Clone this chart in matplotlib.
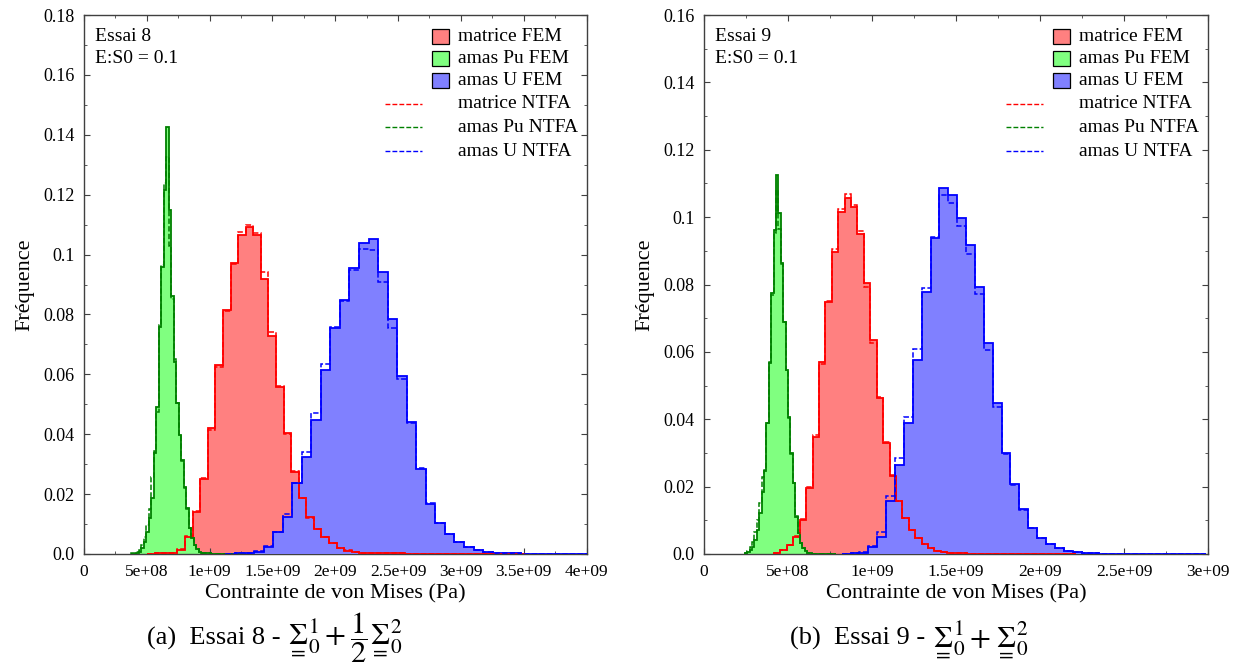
import numpy as np
import matplotlib
matplotlib.use('Agg')
import matplotlib.pyplot as plt
from matplotlib.patches import Rectangle
from matplotlib.lines import Line2D
from matplotlib.ticker import MultipleLocator, FixedLocator, FixedFormatter

plt.rcParams['font.family'] = ['Liberation Serif', 'DejaVu Serif']
plt.rcParams['mathtext.fontset'] = 'stix'

# ---------------- Essai 8 data (left panel) ----------------
e8_mat_start, e8_mat_width = 0.5029e9, 0.0603e9
e8_mat_fem = [0.0001, 0.0002, 0.0003, 0.0005, 0.0015, 0.0058, 0.0140, 0.0250, 0.0420, 0.0630,
              0.0815, 0.0973, 0.1065, 0.1093, 0.1065, 0.0917, 0.0729, 0.0558, 0.0403, 0.0275,
              0.0186, 0.0122, 0.0082, 0.0058, 0.0038, 0.0020, 0.0011, 0.0007, 0.0004, 0.0003,
              0.0003, 0.0002, 0.0002, 0.0002, 0.0001, 0.0001, 0.0001, 0.0001, 0.0001, 0.0001,
              0.0001, 0.0001, 0.0001, 0.0001, 0.0, 0.0, 0.0, 0.0, 0.0, 0.0]
e8_mat_ntfa = [0.0001, 0.0002, 0.0003, 0.0005, 0.0016, 0.0060, 0.0145, 0.0255, 0.0415, 0.0625,
               0.0812, 0.0968, 0.1075, 0.1099, 0.1071, 0.0943, 0.0740, 0.0562, 0.0400, 0.0276,
               0.0186, 0.0120, 0.0082, 0.0058, 0.0038, 0.0021, 0.0012, 0.0007, 0.0004, 0.0003,
               0.0003, 0.0002, 0.0002, 0.0002, 0.0001, 0.0001, 0.0001, 0.0001, 0.0001, 0.0001,
               0.0001, 0.0001, 0.0001, 0.0001, 0.0, 0.0, 0.0, 0.0, 0.0, 0.0]

e8_pu_start, e8_pu_width = 0.3743e9, 0.0199e9
e8_pu_fem = [0.0001, 0.0001, 0.0002, 0.0008, 0.0019, 0.0041, 0.0075, 0.0119, 0.0186, 0.0336,
             0.0492, 0.0759, 0.0960, 0.1216, 0.1425, 0.1149, 0.0860, 0.0642, 0.0503, 0.0398,
             0.0314, 0.0225, 0.0153, 0.0086, 0.0052, 0.0030, 0.0016, 0.0008, 0.0005, 0.0003,
             0.0002, 0.0002, 0.0001, 0.0001, 0.0001, 0.0001, 0.0001, 0.0, 0.0, 0.0,
             0.0, 0.0, 0.0, 0.0, 0.0, 0.0]
e8_pu_ntfa = [0.0002, 0.0003, 0.0006, 0.0015, 0.0030, 0.0058, 0.0097, 0.0150, 0.0258, 0.0345,
              0.0475, 0.0765, 0.0965, 0.1240, 0.1327, 0.1030, 0.0850, 0.0650, 0.0505, 0.0395,
              0.0310, 0.0222, 0.0150, 0.0088, 0.0052, 0.0030, 0.0016, 0.0008, 0.0005, 0.0003,
              0.0002, 0.0002, 0.0001, 0.0001, 0.0001, 0.0001, 0.0001, 0.0, 0.0, 0.0,
              0.0, 0.0, 0.0, 0.0, 0.0, 0.0]

e8_u_start, e8_u_width = 1.1250e9, 0.0760e9
e8_u_fem = [0.0001, 0.0002, 0.0004, 0.0008, 0.0024, 0.0072, 0.0125, 0.0236, 0.0323, 0.0448,
            0.0614, 0.0756, 0.0848, 0.0954, 0.1037, 0.1051, 0.0941, 0.0784, 0.0596, 0.0440,
            0.0285, 0.0166, 0.0105, 0.0066, 0.0039, 0.0024, 0.0013, 0.0008, 0.0005, 0.0003,
            0.0002, 0.0001, 0.0001, 0.0, 0.0, 0.0, 0.0, 0.0]
e8_u_ntfa = [0.0001, 0.0002, 0.0004, 0.0009, 0.0026, 0.0075, 0.0132, 0.0238, 0.0340, 0.0470,
             0.0635, 0.0758, 0.0845, 0.0950, 0.1017, 0.1015, 0.0907, 0.0754, 0.0584, 0.0438,
             0.0288, 0.0170, 0.0105, 0.0066, 0.0040, 0.0024, 0.0013, 0.0008, 0.0005, 0.0003,
             0.0002, 0.0001, 0.0001, 0.0, 0.0, 0.0, 0.0, 0.0]

# ---------------- Essai 9 data (right panel) ----------------
e9_mat_start, e9_mat_width = 0.4169e9, 0.0382e9
e9_mat_fem = [0.0003, 0.0012, 0.0027, 0.0051, 0.0101, 0.0195, 0.0348, 0.0571, 0.0749, 0.0897,
              0.1016, 0.1056, 0.1031, 0.0950, 0.0803, 0.0635, 0.0464, 0.0330, 0.0233, 0.0158,
              0.0106, 0.0071, 0.0047, 0.0030, 0.0017, 0.0010, 0.0005, 0.0003, 0.0002, 0.0002,
              0.0001, 0.0001, 0.0001, 0.0001, 0.0001, 0.0001, 0.0001, 0.0001, 0.0001, 0.0001,
              0.0001, 0.0001, 0.0001, 0.0001, 0.0001, 0.0, 0.0]
e9_mat_ntfa = [0.0003, 0.0012, 0.0028, 0.0053, 0.0105, 0.0200, 0.0352, 0.0565, 0.0752, 0.0905,
               0.1024, 0.1068, 0.1036, 0.0960, 0.0794, 0.0627, 0.0465, 0.0332, 0.0235, 0.0158,
               0.0106, 0.0071, 0.0047, 0.0030, 0.0017, 0.0010, 0.0005, 0.0003, 0.0002, 0.0002,
               0.0001, 0.0001, 0.0001, 0.0001, 0.0001, 0.0001, 0.0001, 0.0001, 0.0001, 0.0001,
               0.0001, 0.0001, 0.0001, 0.0001, 0.0001, 0.0, 0.0]

e9_pu_start, e9_pu_width = 0.2429e9, 0.0143e9
e9_pu_fem = [0.0002, 0.0005, 0.0012, 0.0022, 0.0042, 0.0071, 0.0121, 0.0185, 0.0245, 0.0388,
             0.0566, 0.0774, 0.0962, 0.1125, 0.1011, 0.0863, 0.0690, 0.0546, 0.0408, 0.0299,
             0.0210, 0.0111, 0.0061, 0.0032, 0.0017, 0.0008, 0.0004, 0.0002, 0.0001, 0.0001,
             0.0, 0.0, 0.0, 0.0, 0.0, 0.0, 0.0, 0.0]
e9_pu_ntfa = [0.0004, 0.0010, 0.0020, 0.0037, 0.0066, 0.0101, 0.0150, 0.0230, 0.0250, 0.0390,
              0.0570, 0.0770, 0.0952, 0.1080, 0.0966, 0.0860, 0.0690, 0.0545, 0.0405, 0.0298,
              0.0210, 0.0112, 0.0061, 0.0032, 0.0017, 0.0008, 0.0004, 0.0002, 0.0001, 0.0001,
              0.0, 0.0, 0.0, 0.0, 0.0, 0.0, 0.0, 0.0]

e9_u_start, e9_u_width = 0.8193e9, 0.0529e9
e9_u_fem = [0.0001, 0.0002, 0.0004, 0.0022, 0.0051, 0.0158, 0.0264, 0.0388, 0.0576, 0.0779,
            0.0937, 0.1085, 0.1066, 0.0998, 0.0917, 0.0794, 0.0627, 0.0447, 0.0299, 0.0207,
            0.0133, 0.0076, 0.0047, 0.0030, 0.0017, 0.0010, 0.0006, 0.0004, 0.0002, 0.0001,
            0.0, 0.0, 0.0, 0.0, 0.0, 0.0, 0.0, 0.0, 0.0, 0.0, 0.0]
e9_u_ntfa = [0.0001, 0.0002, 0.0005, 0.0024, 0.0066, 0.0172, 0.0284, 0.0408, 0.0608, 0.0789,
             0.0942, 0.1066, 0.1041, 0.0974, 0.0890, 0.0772, 0.0606, 0.0437, 0.0297, 0.0205,
             0.0130, 0.0076, 0.0047, 0.0030, 0.0017, 0.0010, 0.0006, 0.0004, 0.0002, 0.0001,
             0.0, 0.0, 0.0, 0.0, 0.0, 0.0, 0.0, 0.0, 0.0, 0.0, 0.0]

# ---------------- labels ----------------
legend_labels = ['matrice FEM', 'amas Pu FEM', 'amas U FEM',
                 'matrice NTFA', 'amas Pu NTFA', 'amas U NTFA']
e8_xticklabels = ['0', '5e+08', '1e+09', '1.5e+09', '2e+09', '2.5e+09', '3e+09', '3.5e+09', '4e+09']
e9_xticklabels = ['0', '5e+08', '1e+09', '1.5e+09', '2e+09', '2.5e+09', '3e+09']
e8_yticklabels = ['0.0', '0.02', '0.04', '0.06', '0.08', '0.1', '0.12', '0.14', '0.16', '0.18']
e9_yticklabels = ['0.0', '0.02', '0.04', '0.06', '0.08', '0.1', '0.12', '0.14', '0.16']
xlabel = 'Contrainte de von Mises (Pa)'
ylabel = 'Fréquence'
caption_text = ['(a)  Essai 8 - ', '(b)  Essai 9 - ']
caption_math = [r'$\underset{=}{\Sigma}_{0}^{1} + \dfrac{1}{2}\underset{=}{\Sigma}_{0}^{2}$',
                r'$\underset{=}{\Sigma}_{0}^{1} + \underset{=}{\Sigma}_{0}^{2}$']

fill_colors = ['#ff8080', '#80ff80', '#8080ff']
line_colors = ['#ff0000', '#008000', '#0000ff']


def edges(start, width, n):
    return start + width * np.arange(n + 1)


def panel(ax, series, xmax, ymax, xtl, ytl, essai):
    for k, (st, w, fem, ntfa) in enumerate(series):
        e = edges(st, w, len(fem))
        ax.stairs(fem, e, fill=True, color=fill_colors[k], lw=0, zorder=1 + k)
    for k, (st, w, fem, ntfa) in enumerate(series):
        e = edges(st, w, len(fem))
        ax.stairs(fem, e, color=line_colors[k], lw=1.3, zorder=5)
    for k, (st, w, fem, ntfa) in enumerate(series):
        e = edges(st, w, len(ntfa))
        ax.stairs(ntfa, e, color=line_colors[k], lw=1.1, ls=(0, (3.5, 1.5)), zorder=6)

    ax.set_xlim(0, xmax)
    ax.set_ylim(0, ymax)
    ax.xaxis.set_major_locator(FixedLocator(np.linspace(0, xmax, len(xtl))))
    ax.xaxis.set_major_formatter(FixedFormatter(xtl))
    ax.yaxis.set_major_locator(FixedLocator(np.linspace(0, ymax, len(ytl))))
    ax.yaxis.set_major_formatter(FixedFormatter(ytl))
    ax.xaxis.set_minor_locator(MultipleLocator(0.25e9))
    ax.yaxis.set_minor_locator(MultipleLocator(0.01))
    ax.tick_params(which='both', direction='in', top=True, right=True,
                   color='#404040', labelsize=12.5)
    ax.tick_params(axis='y', labelsize=13)
    ax.tick_params(which='major', length=4, width=0.8, pad=7)
    ax.tick_params(which='minor', length=2.5, width=0.6)
    for s in ax.spines.values():
        s.set_color('#404040')
        s.set_linewidth(1.0)

    ta = ax.transAxes
    ax.text(0.022, 0.961, essai, transform=ta, fontsize=14, va='center', ha='left')
    ax.text(0.022, 0.920, 'E:S0 = 0.1', transform=ta, fontsize=14, va='center', ha='left')

    ty = [0.961, 0.9202, 0.8776, 0.8349, 0.7913, 0.7468]
    for k in range(3):
        ax.add_patch(Rectangle((0.692, ty[k] - 0.0139), 0.035, 0.0278, transform=ta,
                               facecolor=fill_colors[k], edgecolor='black', lw=0.9,
                               zorder=10, clip_on=False))
        ax.add_line(Line2D([0.599, 0.6726], [ty[k + 3], ty[k + 3]], transform=ta,
                           color=line_colors[k], lw=1.0, ls=(0, (3.5, 1.5)), zorder=10))
    for k in range(6):
        ax.text(0.7443, ty[k], legend_labels[k], transform=ta, fontsize=14,
                va='center', ha='left', zorder=11)


fig = plt.figure(figsize=(12.41, 6.71), dpi=100)
W, H = 1241, 671
ax1 = fig.add_axes([84 / W, (H - 554) / H, 502.5 / W, 539 / H])
ax2 = fig.add_axes([704 / W, (H - 554) / H, 504 / W, 539 / H])

panel(ax1, [(e8_mat_start, e8_mat_width, e8_mat_fem, e8_mat_ntfa),
            (e8_pu_start, e8_pu_width, e8_pu_fem, e8_pu_ntfa),
            (e8_u_start, e8_u_width, e8_u_fem, e8_u_ntfa)],
      4e9, 0.18, e8_xticklabels, e8_yticklabels, 'Essai 8')
panel(ax2, [(e9_mat_start, e9_mat_width, e9_mat_fem, e9_mat_ntfa),
            (e9_pu_start, e9_pu_width, e9_pu_fem, e9_pu_ntfa),
            (e9_u_start, e9_u_width, e9_u_fem, e9_u_ntfa)],
      3e9, 0.16, e9_xticklabels, e9_yticklabels, 'Essai 9')

for xc in (335 / W, 956 / W):
    fig.text(xc, 1 - 594 / H, xlabel, ha='center', va='center', fontsize=16)
for xc in (25 / W, 645 / W):
    fig.text(xc, 1 - 285 / H, ylabel, ha='center', va='center', rotation=90, fontsize=16)

fig.canvas.draw()
renderer = fig.canvas.get_renderer()
for x0, txt, mth in zip((147 / W, 790 / W), caption_text, caption_math):
    t1 = fig.text(x0, 1 - 645 / H, txt, ha='left', va='baseline', fontsize=19)
    bb = t1.get_window_extent(renderer=renderer)
    x1 = bb.x1 / fig.bbox.width
    fig.text(x1, 1 - 645 / H, mth, ha='left', va='baseline', fontsize=22)

fig.savefig('out.png', dpi=100)
